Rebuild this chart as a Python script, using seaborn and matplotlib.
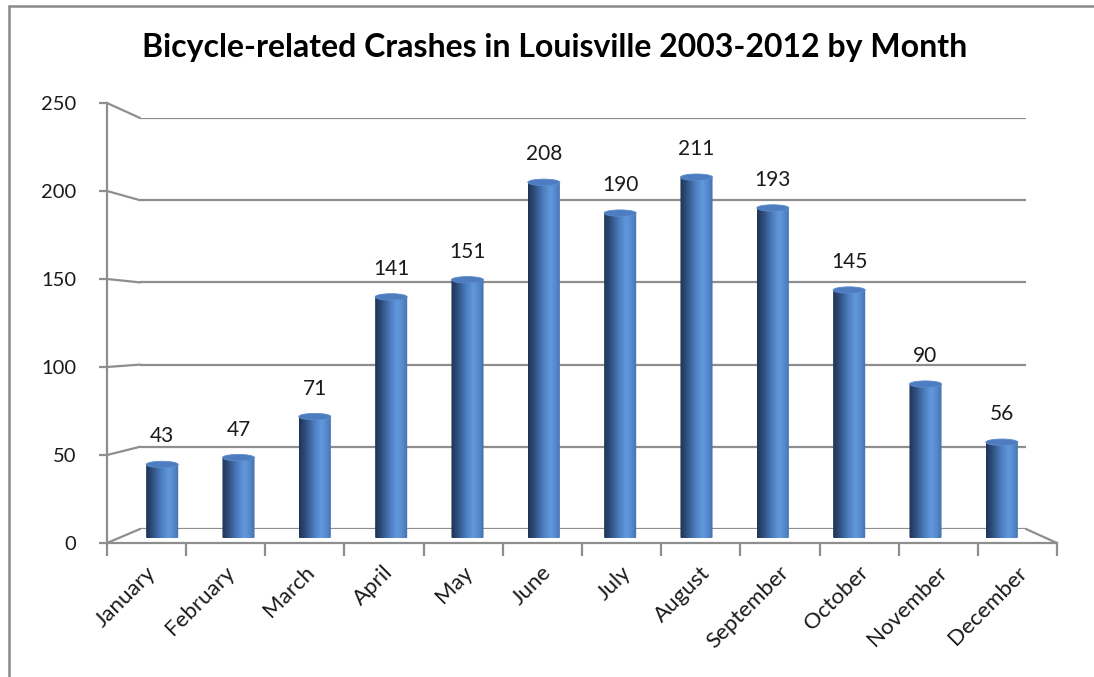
import numpy as np
import pandas as pd
import matplotlib
matplotlib.use("Agg")
import matplotlib.pyplot as plt
import seaborn as sns
import matplotlib.transforms as mtrans
import matplotlib.patches as mpatches
from matplotlib.patches import Ellipse, ConnectionPatch
from matplotlib.lines import Line2D
from matplotlib.path import Path
from matplotlib.colors import LinearSegmentedColormap

months = ["January", "February", "March", "April", "May", "June", "July",
          "August", "September", "October", "November", "December"]
crashes = [43, 47, 71, 141, 151, 208, 190, 211, 193, 145, 90, 56]
yticks = [0, 50, 100, 150, 200, 250]
title = "Bicycle-related Crashes in Louisville 2003-2012 by Month"

sns.set_theme(style="white")
plt.rcParams["font.family"] = ["Lato", "DejaVu Sans"]

W, H = 1094, 677
fig = plt.figure(figsize=(W / 100, H / 100), dpi=100)
fig.patch.set_facecolor("white")

def pos(left, right, bottom, top):
    return [left / W, 1 - bottom / H, (right - left) / W, (bottom - top) / H]

GRID = "#8e8e8e"
TXT = "#1a1a1a"

# back wall (gridlines)
back = fig.add_axes(pos(140, 1026, 529, 118))
back.set_xlim(0, 1)
back.set_ylim(0, 250)
for v in yticks:
    back.axhline(v, color=GRID, lw=1.6, zorder=1)
back.set_xticks([]); back.set_yticks([])
for s in back.spines.values():
    s.set_visible(False)
back.patch.set_alpha(0)

# front axis
front = fig.add_axes(pos(107, 1057, 543, 103))
front.set_xlim(-0.5, 11.5)
front.set_ylim(0, 250)
front.patch.set_alpha(0)
for s in ["top", "right"]:
    front.spines[s].set_visible(False)
for s in ["left", "bottom"]:
    front.spines[s].set_color(GRID)
    front.spines[s].set_linewidth(1.6)
front.set_yticks(yticks)
front.set_yticklabels([str(v) for v in yticks], fontsize=14.5, color=TXT)
front.tick_params(axis="y", direction="out", length=6, width=1.6, color=GRID, pad=16, left=True)
front.set_xticks(np.arange(len(months)))
front.set_xticklabels(months, rotation=45, ha="right", rotation_mode="anchor",
                      fontsize=16, color=TXT)
front.tick_params(axis="x", length=0, pad=14, bottom=True)
front.set_xticks(np.arange(-0.5, len(months)), minor=True)
front.tick_params(axis="x", which="minor", direction="out", length=9, width=1.6, color=GRID, bottom=True)
for lab in front.get_xticklabels():
    lab.set_transform(lab.get_transform() + mtrans.ScaledTranslation(-1 / 100, 0, fig.dpi_scale_trans))

# perspective connectors
for v in yticks:
    fig.add_artist(ConnectionPatch(xyA=(0, v), coordsA=front.get_yaxis_transform(),
                                   xyB=(0, v), coordsB=back.get_yaxis_transform(),
                                   color=GRID, lw=1.6))
fig.add_artist(ConnectionPatch(xyA=(1, 0), coordsA=front.get_yaxis_transform(),
                               xyB=(1, 0), coordsB=back.get_yaxis_transform(),
                               color=GRID, lw=1.6))

# bars
bar_ax = fig.add_axes(pos(124, 1040, 538, 110.5))
df = pd.DataFrame({"month": months, "crashes": crashes})
sns.barplot(data=df, x="month", y="crashes", order=months, ax=bar_ax,
            width=0.42, color="#4f81bd", saturation=1)
bar_ax.patch.set_alpha(0)
bar_ax.set_xticks([]); bar_ax.set_yticks([])
bar_ax.set_xlabel(""); bar_ax.set_ylabel("")
for s in bar_ax.spines.values():
    s.set_visible(False)

cmap = LinearSegmentedColormap.from_list("cyl", [
    (0.0, "#1e3354"), (0.18, "#2e4c7a"), (0.45, "#4a7bbd"),
    (0.68, "#6199dd"), (0.85, "#5587cb"), (1.0, "#4270aa")])
grad = np.linspace(0, 1, 256).reshape(1, -1)
ry = 3.2 / 1.71
for p in list(bar_ax.patches):
    x0, w, h = p.get_x(), p.get_width(), p.get_height()
    xc = x0 + w / 2
    p.set_visible(False)
    t = np.linspace(np.pi, 2 * np.pi, 40)
    bx = xc + (w / 2) * np.cos(t)
    by = ry * np.sin(t) + ry * 0.3
    verts = list(zip(bx, by)) + [(x0 + w, h), (x0, h), (bx[0], by[0])]
    body = mpatches.PathPatch(Path(verts), facecolor="none", edgecolor="none",
                              transform=bar_ax.transData)
    bar_ax.add_patch(body)
    im = bar_ax.imshow(grad, cmap=cmap, aspect="auto",
                       extent=[x0, x0 + w, -ry, h], zorder=2, interpolation="bilinear")
    im.set_clip_path(body)
    cap = Ellipse((xc, h), w, 2 * ry, facecolor="#4d7dc0", edgecolor="#5d8bcb",
                  lw=0.6, zorder=3)
    bar_ax.add_patch(cap)
bar_ax.set_xlim(-0.5, 11.5)
bar_ax.set_ylim(0, 250)

for i, v in enumerate(crashes):
    bar_ax.annotate(str(v), xy=(i, v), xytext=(0, 13), textcoords="offset points",
                    ha="center", va="bottom", fontsize=15, color=TXT)

fig.text(0.507, 1 - 47 / H, title, ha="center", va="center",
         fontsize=23, fontweight="bold", color="#000000")

# chart-area border (left and top edges visible)
fig.add_artist(Line2D([9 / W, 9 / W], [0, 1 - 6 / H], transform=fig.transFigure,
                      color="#8a8a8a", lw=1.8))
fig.add_artist(Line2D([9 / W, 1], [1 - 6 / H, 1 - 6 / H], transform=fig.transFigure,
                      color="#8a8a8a", lw=1.8))

fig.savefig("out.png", dpi=100)
